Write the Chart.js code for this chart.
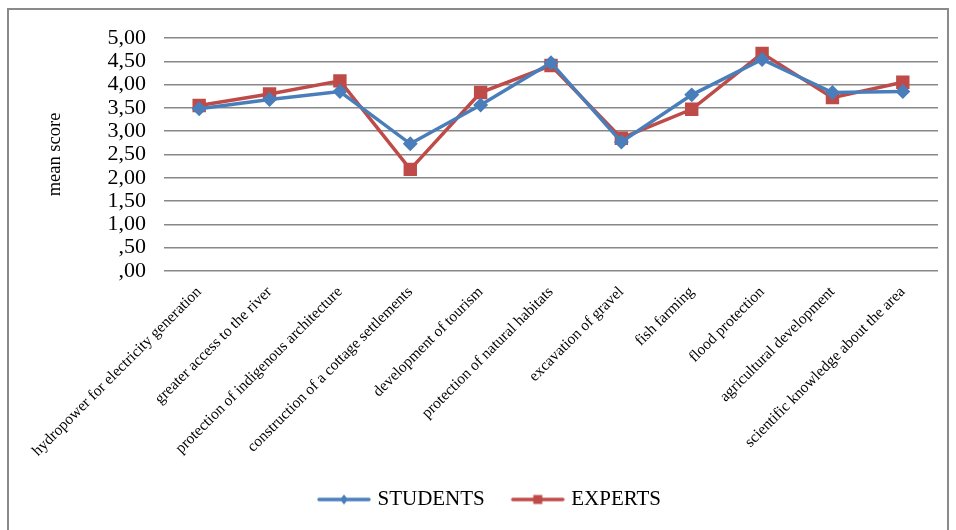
<!DOCTYPE html>
<html>
<head>
<meta charset="utf-8">
<script src="https://cdn.jsdelivr.net/npm/chart.js@4"></script>
<style>
    html, body { margin: 0; padding: 0; background: #fff; overflow: hidden; }
    #wrap { position: relative; width: 956px; height: 530px; }
    #frame { position: absolute; left: 7px; top: 8px; width: 942px; height: 560px; border: 2px solid #8a8a8a; box-sizing: border-box; pointer-events: none; }
    canvas { position: absolute; left: 0; top: 0; }
</style>
</head>
<body>
<div id="wrap">
    <canvas id="cScores" width="956" height="530"></canvas>
    <div id="frame"></div>
</div>
<script>
// ===== Mean scores: students vs experts =====
const CATEGORIES = [
    'hydropower for electricity generation',
    'greater access to the river',
    'protection of indigenous architecture',
    'construction of a cottage settlements',
    'development of tourism',
    'protection of natural habitats',
    'excavation of gravel',
    'fish farming',
    'flood protection',
    'agricultural development',
    'scientific knowledge about the area'
];
const STUDENTS = [3.48, 3.68, 3.85, 2.73, 3.56, 4.47, 2.77, 3.78, 4.54, 3.83, 3.85];
const EXPERTS = [3.55, 3.80, 4.08, 2.18, 3.83, 4.41, 2.85, 3.47, 4.67, 3.72, 4.05];
const SERIES_NAMES = ['STUDENTS', 'EXPERTS'];

const BLUE = '#4a7ebb';
const RED = '#be4b48';
const SERIF = '"Liberation Serif", "Times New Roman", serif';

// ",50" style labels (comma decimal, no leading zero)
const fmtTick = v => {
    const s = Number(v).toFixed(2).replace('.', ',');
    return s.startsWith('0,') ? s.slice(1) : s;
};

// legend swatch: short line with the series marker in the middle
function legendSwatch(color, shape) {
    const c = document.createElement('canvas');
    c.width = 56; c.height = 14;
    const g = c.getContext('2d');
    g.strokeStyle = color; g.fillStyle = color;
    g.lineWidth = 3.5; g.lineCap = 'round';
    g.beginPath(); g.moveTo(3, 7); g.lineTo(53, 7); g.stroke();
    g.beginPath();
    if (shape === 'diamond') {
        g.moveTo(28, 2); g.lineTo(32, 7); g.lineTo(28, 12); g.lineTo(24, 7);
    } else {
        g.rect(23.5, 2.5, 9, 9);
    }
    g.closePath(); g.fill();
    return c;
}

const swatches = [legendSwatch(BLUE, 'diamond'), legendSwatch(RED, 'square')];

new Chart(document.getElementById('cScores').getContext('2d'), {
    type: 'line',
    data: {
        labels: CATEGORIES,
        datasets: [
            { label: SERIES_NAMES[0], data: STUDENTS, borderColor: BLUE, backgroundColor: BLUE, borderWidth: 3.5,
              pointStyle: 'rectRot', pointRadius: 5, pointHoverRadius: 5, tension: 0 },
            { label: SERIES_NAMES[1], data: EXPERTS, borderColor: RED, backgroundColor: RED, borderWidth: 3.5,
              pointStyle: 'rect', pointRadius: 7, pointHoverRadius: 7, tension: 0 }
        ]
    },
    options: {
        responsive: false, animation: false,
        layout: { padding: { left: 44, right: 18, top: 38, bottom: 10 } },
        scales: {
            x: {
                offset: true,
                grid: { display: false },
                border: { display: false },
                ticks: { color: '#000', font: { family: SERIF, size: 15.5 }, minRotation: 45, maxRotation: 45, padding: 4, autoSkip: false },
                afterFit: s => { s.height = 188; }
            },
            y: {
                min: 0, max: 5,
                grid: { color: '#888', lineWidth: 1.6, drawTicks: false },
                border: { display: false },
                ticks: { stepSize: 0.5, autoSkip: false, color: '#000', font: { family: SERIF, size: 22 }, padding: 18, callback: fmtTick },
                title: { display: true, text: 'mean score', color: '#000', font: { family: SERIF, size: 18.5 }, padding: 0 },
                afterFit: s => { s.width = 120; }
            }
        },
        plugins: {
            tooltip: { enabled: false },
            legend: {
                position: 'bottom',
                labels: {
                    color: '#000', font: { family: SERIF, size: 21 }, padding: 30,
                    usePointStyle: true, pointStyleWidth: 46, boxHeight: 14,
                    generateLabels: chart => chart.data.datasets.map((d, i) => ({
                        text: d.label, pointStyle: swatches[i], fillStyle: d.borderColor,
                        strokeStyle: d.borderColor, lineWidth: 0, hidden: false, datasetIndex: i, fontColor: '#000'
                    }))
                }
            }
        }
    }
});
</script>
</body>
</html>
